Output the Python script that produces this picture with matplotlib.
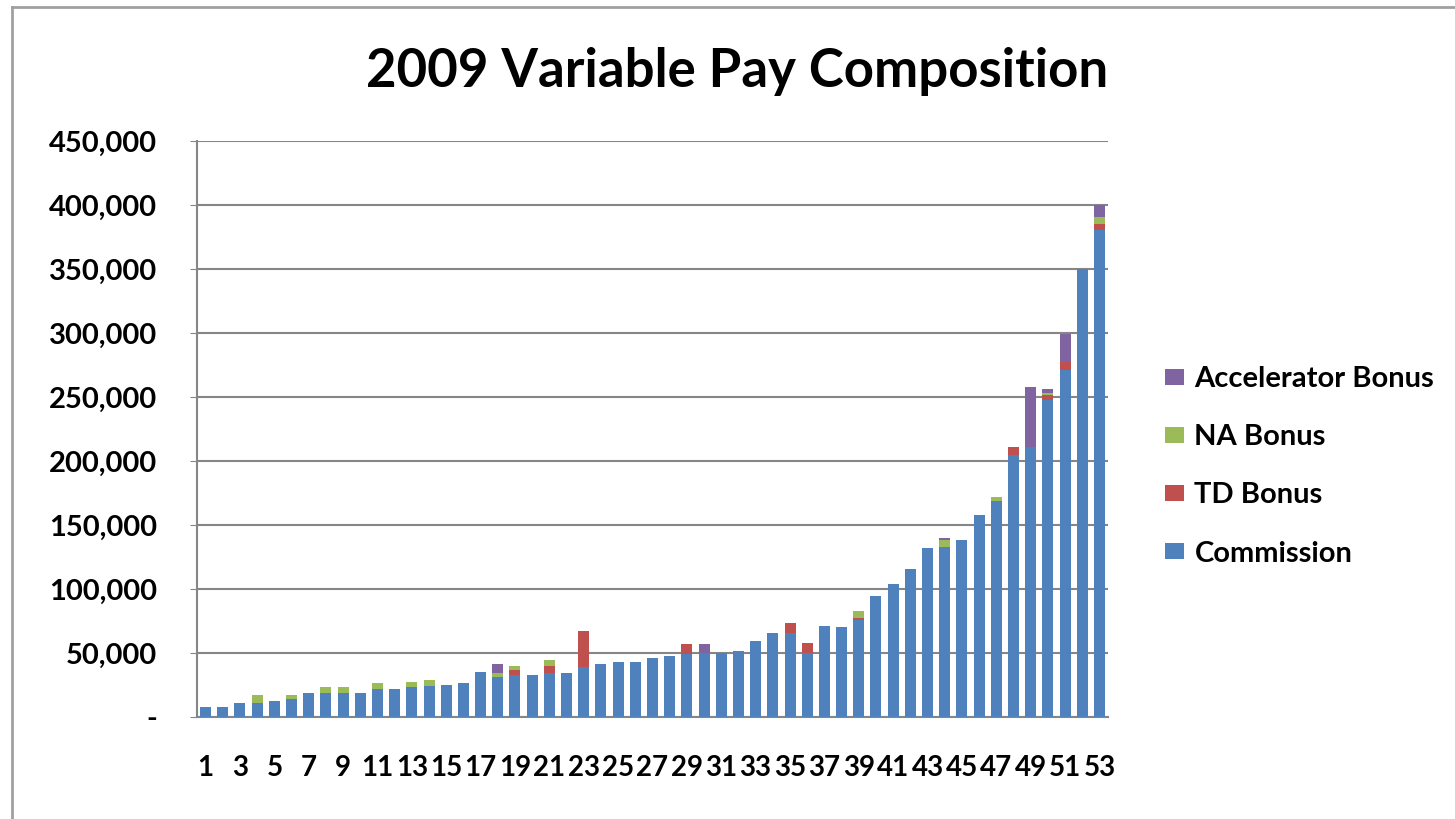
import numpy as np
import matplotlib
matplotlib.use('Agg')
import matplotlib.pyplot as plt
from matplotlib.lines import Line2D
from matplotlib.ticker import FuncFormatter

plt.rcParams['font.family'] = ['Lato', 'DejaVu Sans']

# values in thousands
people = list(range(1, 54))
commission = [8, 8, 11, 11, 12.8, 14, 18.8, 18.8, 18.8, 18.8, 22, 22, 23.7, 24.2, 25, 26.3,
              35.2, 31, 33, 32.5, 34, 34, 39.3, 41.4, 42.7, 42.7, 45.8, 47.7, 49.5, 50,
              49.7, 51.8, 59.4, 65.4, 65.4, 50, 71.4, 70, 76, 94.5, 103.6, 115.6, 132.3,
              133, 138.3, 158, 168.7, 204.7, 211, 247.5, 271, 349.7, 380.5]
td_bonus = [0, 0, 0, 0, 0, 0, 0, 0, 0, 0, 0, 0, 0, 0, 0, 0,
            0, 0, 4, 0, 6, 0, 28, 0, 0, 0, 0, 0, 7.3, 0,
            0, 0, 0, 0, 7.8, 8, 0, 0, 1.5, 0, 0, 0, 0,
            0, 0, 0, 0, 6.3, 0, 4, 6.6, 0, 5]
na_bonus = [0, 0, 0, 6.4, 0, 3, 0, 4.5, 4.5, 0, 4.4, 0, 4, 4.8, 0, 0,
            0, 3.6, 3, 0, 4.5, 0, 0, 0, 0, 0, 0, 0, 0, 0,
            0, 0, 0, 0, 0, 0, 0, 0, 5.3, 0, 0, 0, 0,
            5.3, 0, 0, 2.9, 0, 0, 1.5, 0, 0, 5]
accel_bonus = [0, 0, 0, 0, 0, 0, 0, 0, 0, 0, 0, 0, 0, 0, 0, 0,
               0, 6.8, 0, 0, 0, 0, 0, 0, 0, 0, 0, 0, 0, 6.8,
               0, 0, 0, 0, 0, 0, 0, 0, 0, 0, 0, 0, 0,
               1.5, 0, 0, 0, 0, 47, 3.3, 21.4, 0, 9.5]

series = [('Commission', commission, '#4F81BD'),
          ('TD Bonus', td_bonus, '#C0504D'),
          ('NA Bonus', na_bonus, '#9BBB59'),
          ('Accelerator Bonus', accel_bonus, '#8064A2')]

fig = plt.figure(figsize=(14.55, 8.19), dpi=100)
ax = fig.add_axes([197/1455, 1-717/819, (1108-197)/1455, (717-141)/819])

x = np.array(people)
bottom = np.zeros(len(people))
handles = []
for name, vals, col in series:
    v = np.array(vals) * 1000
    b = ax.bar(x, v, 0.64, bottom=bottom, color=col, label=name, zorder=3)
    handles.append(b)
    bottom += v

ax.set_xlim(0.5, 53.5)
ax.set_ylim(0, 450000)
ax.set_yticks(np.arange(0, 450001, 50000))
ax.yaxis.set_major_formatter(FuncFormatter(lambda v, p: '-' if v == 0 else f'{int(v):,}'))
ax.set_xticks(people[::2])
ax.set_xticklabels([str(p) for p in people[::2]])
ax.grid(axis='y', color='#868686', lw=1.5, zorder=0)
for s in ['top', 'right']:
    ax.spines[s].set_visible(False)
ax.spines['left'].set_color('#868686')
ax.spines['bottom'].set_color('#868686')
ax.spines['left'].set_linewidth(1.5)
ax.spines['bottom'].set_linewidth(1.5)
ax.tick_params(axis='y', length=5, color='#868686', pad=24, labelsize=21)
ax.tick_params(axis='x', length=0, pad=27, labelsize=20)
for lab in ax.get_xticklabels() + ax.get_yticklabels():
    lab.set_fontweight('bold')

fig.text(737/1455, 1-72/819, '2009 Variable Pay Composition', ha='center', va='center',
         fontsize=38, fontweight='bold')

leg = fig.legend(handles[::-1], [s[0] for s in series][::-1],
                 loc='upper left', bbox_to_anchor=(1139/1455, 1-340/819), frameon=False,
                 handlelength=0.65, handleheight=0.5, handletextpad=0.35, labelspacing=1.1,
                 prop={'size': 21, 'weight': 'bold'})

# outer chart border (only left and top visible in the crop)
fig.add_artist(Line2D([12/1455, 12/1455], [0, 1-7/819], color='#a0a0a0', lw=2))
fig.add_artist(Line2D([12/1455, 1], [1-7/819, 1-7/819], color='#a0a0a0', lw=2))

fig.savefig('out.png', dpi=100)
